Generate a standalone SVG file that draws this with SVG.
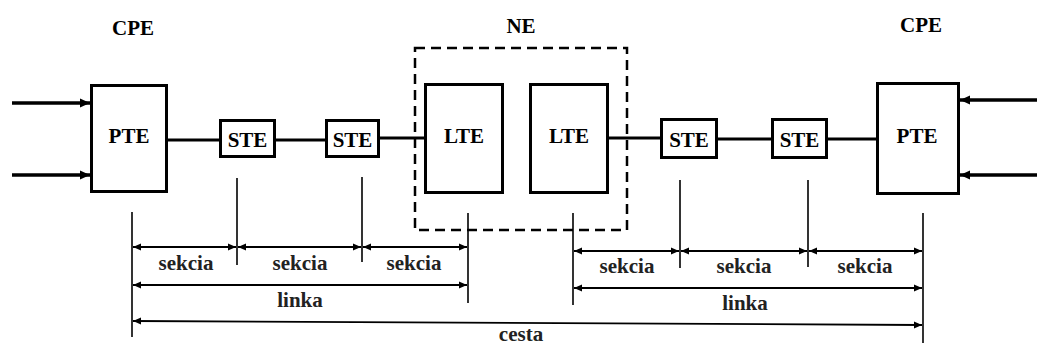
<svg xmlns="http://www.w3.org/2000/svg" width="1037" height="346" viewBox="0 0 1037 346">
<style>
.box{fill:#fff;stroke:#000;stroke-width:3}
.lbl{font-family:"Liberation Serif",serif;font-weight:bold;font-size:21px;text-anchor:middle;fill:#000}
.dim{font-family:"Liberation Serif",serif;font-weight:bold;font-size:21px;text-anchor:middle;fill:#222}
.wire{stroke:#000;stroke-width:3;fill:none}
.in{stroke:#000;stroke-width:3.5;fill:none}
.tick{stroke:#000;stroke-width:1.6;fill:none}
.dl{stroke:#000;stroke-width:1.8;fill:none;marker-start:url(#as);marker-end:url(#ae)}
</style>
<defs>
<marker id="ae" markerUnits="userSpaceOnUse" markerWidth="10" markerHeight="8" refX="8" refY="4" orient="auto"><path d="M0,0.5 L8,4 L0,7.5 Z" fill="#000"/></marker>
<marker id="as" markerUnits="userSpaceOnUse" markerWidth="10" markerHeight="8" refX="0" refY="4" orient="auto"><path d="M8,0.5 L0,4 L8,7.5 Z" fill="#000"/></marker>
<marker id="ia" markerUnits="userSpaceOnUse" markerWidth="12" markerHeight="10" refX="10" refY="5" orient="auto"><path d="M0,0.5 L10,5 L0,9.5 Z" fill="#000"/></marker>
</defs>
<g id="titles">
<text class="lbl" x="133" y="35">CPE</text>
<text class="lbl" x="521" y="33">NE</text>
<text class="lbl" x="921" y="32">CPE</text>
</g>
<g id="ne-group"><rect x="415" y="48" width="212" height="182" fill="none" stroke="#000" stroke-width="2.5" stroke-dasharray="10,6"/></g>
<g id="connectors">
<line class="in" x1="12" y1="103" x2="90" y2="103" marker-end="url(#ia)"/>
<line class="in" x1="12" y1="175" x2="90" y2="175" marker-end="url(#ia)"/>
<line class="in" x1="1037" y1="100" x2="960" y2="100" marker-end="url(#ia)"/>
<line class="in" x1="1037" y1="175" x2="960" y2="175" marker-end="url(#ia)"/>
<line class="wire" x1="168" y1="140" x2="220" y2="140"/>
<line class="wire" x1="276" y1="140" x2="326" y2="140"/>
<line class="wire" x1="380" y1="138" x2="425" y2="138"/>
<line class="wire" x1="609" y1="138" x2="661" y2="138"/>
<line class="wire" x1="718" y1="139" x2="772" y2="139"/>
<line class="wire" x1="828" y1="139" x2="877" y2="139"/>
</g>
<g id="pte-left"><rect class="box" x="91.5" y="85.5" width="75" height="106"/><text class="lbl" x="129" y="143">PTE</text></g>
<g id="ste-1"><rect class="box" x="220.5" y="120.5" width="54" height="36"/><text class="lbl" x="247.5" y="147">STE</text></g>
<g id="ste-2"><rect class="box" x="326.5" y="120.5" width="52" height="36"/><text class="lbl" x="352.5" y="147">STE</text></g>
<g id="lte-1"><rect class="box" x="425.5" y="84.5" width="77" height="108"/><text class="lbl" x="464" y="143">LTE</text></g>
<g id="lte-2"><rect class="box" x="530.5" y="84.5" width="77" height="108"/><text class="lbl" x="569" y="143">LTE</text></g>
<g id="ste-3"><rect class="box" x="661.5" y="119.5" width="55" height="38"/><text class="lbl" x="689" y="147">STE</text></g>
<g id="ste-4"><rect class="box" x="772.5" y="119.5" width="54" height="38"/><text class="lbl" x="799.5" y="147">STE</text></g>
<g id="pte-right"><rect class="box" x="877.5" y="83.5" width="81" height="110"/><text class="lbl" x="917" y="143">PTE</text></g>
<g id="dimensions">
<line class="tick" x1="132" y1="212" x2="132" y2="337"/>
<line class="tick" x1="237" y1="178" x2="237" y2="265"/>
<line class="tick" x1="362" y1="177" x2="362" y2="262"/>
<line class="tick" x1="468" y1="213" x2="468" y2="303"/>
<line class="tick" x1="573" y1="213" x2="573" y2="305"/>
<line class="tick" x1="680" y1="180" x2="680" y2="268"/>
<line class="tick" x1="808" y1="180" x2="808" y2="267"/>
<line class="tick" x1="923" y1="213" x2="923" y2="343"/>
<line class="dl" x1="133" y1="247" x2="236" y2="247"/>
<line class="dl" x1="238" y1="247" x2="361" y2="247"/>
<line class="dl" x1="363" y1="247" x2="467" y2="247"/>
<line class="dl" x1="133" y1="285" x2="467" y2="285"/>
<line class="dl" x1="574" y1="251" x2="679" y2="251"/>
<line class="dl" x1="681" y1="251" x2="807" y2="251"/>
<line class="dl" x1="809" y1="251" x2="922" y2="251"/>
<line class="dl" x1="574" y1="288" x2="922" y2="288"/>
<line class="dl" x1="133" y1="321" x2="922" y2="325"/>
<text class="dim" x="186" y="270">sekcia</text>
<text class="dim" x="300" y="270">sekcia</text>
<text class="dim" x="414" y="270">sekcia</text>
<text class="dim" x="300" y="307">linka</text>
<text class="dim" x="627" y="273">sekcia</text>
<text class="dim" x="744" y="273">sekcia</text>
<text class="dim" x="865" y="273">sekcia</text>
<text class="dim" x="745" y="310">linka</text>
<text class="dim" x="521" y="341">cesta</text>
</g>
</svg>
